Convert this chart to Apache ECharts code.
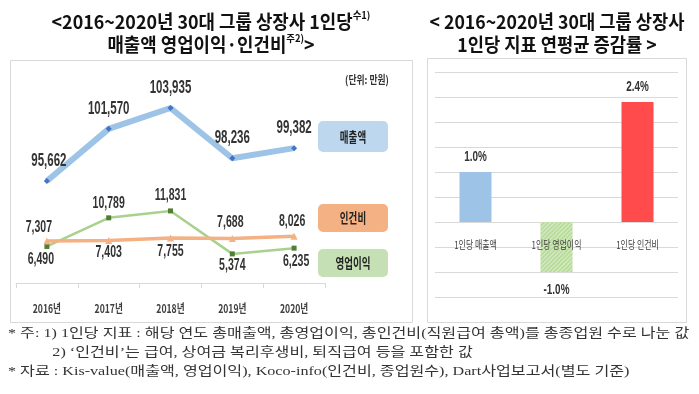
<!DOCTYPE html>
<html><head><meta charset="utf-8">
<script src="https://cdn.jsdelivr.net/npm/echarts@6/dist/echarts.min.js"></script>
<style>html,body{margin:0;padding:0;background:#fff}#c{width:699px;height:394px}</style>
</head><body><div id="c"></div>
<script>
const years = ['2016년','2017년','2018년','2019년','2020년'];
const sales = [95662, 101570, 103935, 98236, 99382];
const profit = [6490, 10789, 11831, 5374, 6235];
const labor = [7307, 7403, 7755, 7688, 8026];
const rateCats = ['1인당 매출액','1인당 영업이익','1인당 인건비'];
const rateVals = [1.0, -1.0, 2.4];

const LAT = '"Liberation Sans","Noto Sans CJK KR",sans-serif';
const KR = '"Noto Sans CJK KR",sans-serif';
const labelColor = '#333';
const fmt = v => v.toLocaleString('en-US');

// label placement offsets (style only)
const salesOff = [[2,-20],[0,-20],[0,-20],[0,-20],[0,-20]];
const profitOff = [[-6,13],[0,-15],[0,-16],[0,11],[2,13]];
const laborOff = [[-8,-14],[0,12],[0,13],[-2,-16],[-2,-15]];

const chart = echarts.init(document.getElementById('c'));
const baseGraphic = [
  {type:'rect', shape:{x:10.5,y:60.5,width:402,height:262}, style:{fill:'none', stroke:'#d9d9d9', lineWidth:1}, z:-1},
  {type:'rect', shape:{x:427.5,y:58.5,width:259,height:264}, style:{fill:'none', stroke:'#d9d9d9', lineWidth:1}, z:-1},
  {type:'text', x:211, y:10, scaleX:0.94, style:{
    text:'{t|<2016~2020년 30대 그룹 상장사 1인당}{s|수1)}\n{t|매출액 영업이익·인건비}{s|주2)}{t|>}',
    align:'center',
    rich:{t:{fontFamily:KR, fontSize:19, fontWeight:'bold', fill:'#111', lineHeight:23},
          s:{fontFamily:KR, fontSize:10, fontWeight:'bold', fill:'#111', verticalAlign:'top', lineHeight:23}}}},
  {type:'text', x:557, y:10, scaleX:0.93, style:{
    text:'< 2016~2020년 30대 그룹 상장사\n1인당 지표 연평균 증감률 >',
    align:'center', font:'bold 19px '+KR, fill:'#111', lineHeight:23}},
  {type:'text', x:367, y:80, scaleX:0.8, style:{text:'(단위: 만원)', align:'center', verticalAlign:'middle', font:'bold 11px '+KR, fill:'#333'}},
  {type:'rect', shape:{x:318,y:121,width:70,height:31,r:5}, style:{fill:'#bdd7ee'}},
  {type:'text', x:353, y:137, scaleX:0.68, style:{text:'매출액', align:'center', verticalAlign:'middle', font:'bold 14px '+KR, fill:'#222'}},
  {type:'rect', shape:{x:318,y:204,width:70,height:28,r:5}, style:{fill:'#f4b183'}},
  {type:'text', x:353, y:218, scaleX:0.68, style:{text:'인건비', align:'center', verticalAlign:'middle', font:'bold 14px '+KR, fill:'#222'}},
  {type:'rect', shape:{x:318,y:249,width:70,height:28,r:5}, style:{fill:'#c5e0b4'}},
  {type:'text', x:353, y:263, scaleX:0.68, style:{text:'영업이익', align:'center', verticalAlign:'middle', font:'bold 14px '+KR, fill:'#222'}},
  {type:'text', x:8, y:324, scaleX:1.24, style:{
    text:'* 주: 1) 1인당 지표 : 해당 연도 총매출액, 총영업이익, 총인건비(직원급여 총액)를 총종업원 수로 나눈 값\n           2) ‘인건비’는 급여, 상여금 복리후생비, 퇴직급여 등을 포함한 값\n* 자료 : Kis-value(매출액, 영업이익), Koco-info(인건비, 종업원수), Dart사업보고서(별도 기준)',
    font:'13px "Liberation Serif","Noto Sans CJK KR",serif', fill:'#333', lineHeight:19}}
];

chart.setOption({
  animation: false,
  grid: [
    {left: 16, right: 374, top: 70, bottom: 111},
    {left: 435, right: 21, top: 72, bottom: 97}
  ],
  xAxis: [
    {type:'category', data: years, gridIndex:0, boundaryGap:true,
     axisLine:{lineStyle:{color:'#d9d9d9'}},
     axisTick:{show:true, length:5, lineStyle:{color:'#d9d9d9'}},
     axisLabel:{show:false}},
    {type:'category', data: rateCats, gridIndex:1,
     axisLine:{show:false}, axisTick:{show:false}, axisLabel:{show:false}}
  ],
  yAxis: [
    {type:'value', gridIndex:0, min:84100, max:108240, show:false},
    {type:'value', gridIndex:0, min:1000, max:33000, show:false},
    {type:'value', gridIndex:1, min:-1.5, max:3.0, interval:0.5,
     axisLabel:{show:false}, axisLine:{show:false}, axisTick:{show:false},
     splitLine:{lineStyle:{color:'#d9d9d9'}}}
  ],
  series: [
    {type:'line', name:'영업이익', xAxisIndex:0, yAxisIndex:1, data: profit,
     symbol:'rect', symbolSize:5, itemStyle:{color:'#4f7f32'},
     lineStyle:{color:'#a9d18e', width:2.5}},
    {type:'line', name:'인건비', xAxisIndex:0, yAxisIndex:1, data: labor,
     symbol:'triangle', symbolSize:7, itemStyle:{color:'#f4b183'},
     lineStyle:{color:'#f4b183', width:3.5}},
    {type:'line', name:'매출액', xAxisIndex:0, yAxisIndex:0, data: sales,
     symbol:'diamond', symbolSize:6, itemStyle:{color:'#4472c4'},
     lineStyle:{color:'#9dc3e6', width:6}},
    {type:'bar', xAxisIndex:1, yAxisIndex:2, barWidth:32,
     data: rateVals.map((v,i)=>({value:v,
        itemStyle: i===0?{color:'#9dc3e6'}: i===1?{color:'#b9dc9c', decal:{symbol:'rect', color:'rgba(255,255,255,0.45)', dashArrayX:[1,0], dashArrayY:[1,2], rotation:-Math.PI/4}}:{color:'#ff4b4b'}}))}
  ],
  graphic: baseGraphic
});

// value and category labels: positions from the library's own scales
const labels = [];
function txt(x, y, text, font, sx, fill) {
  labels.push({type:'text', x:x, y:y, scaleX:sx, z:10,
    style:{text:text, align:'center', verticalAlign:'middle', font:font, fill:fill||labelColor}});
}
function addLab(seriesIndex, i, v, text, off, size, sx) {
  const p = chart.convertToPixel({seriesIndex: seriesIndex}, [i, v]);
  txt(p[0]+off[0], p[1]+off[1], text, 'bold '+size+'px '+LAT, sx);
}
sales.forEach((v,i)=>addLab(2, i, v, fmt(v), salesOff[i], 18, 0.64));
profit.forEach((v,i)=>addLab(0, i, v, fmt(v), profitOff[i], 17, 0.62));
labor.forEach((v,i)=>addLab(1, i, v, fmt(v), laborOff[i], 17, 0.62));
rateVals.forEach((v,i)=>addLab(3, i, v, v.toFixed(1)+'%', v<0?[0,18]:[0,-15], 15, 0.66));
years.forEach((c,i)=>{
  const x = chart.convertToPixel({xAxisIndex:0}, i);
  txt(x, 308, c, 'bold 12px '+KR, 0.72, '#404040');
});
const zeroY = chart.convertToPixel({yAxisIndex:2}, 0);
rateCats.forEach((c,i)=>{
  const x = chart.convertToPixel({xAxisIndex:1}, i);
  txt(x, zeroY+23, c, '11px '+KR, 0.72, '#404040');
});
chart.setOption({graphic: baseGraphic.concat(labels)});
</script></body></html>
